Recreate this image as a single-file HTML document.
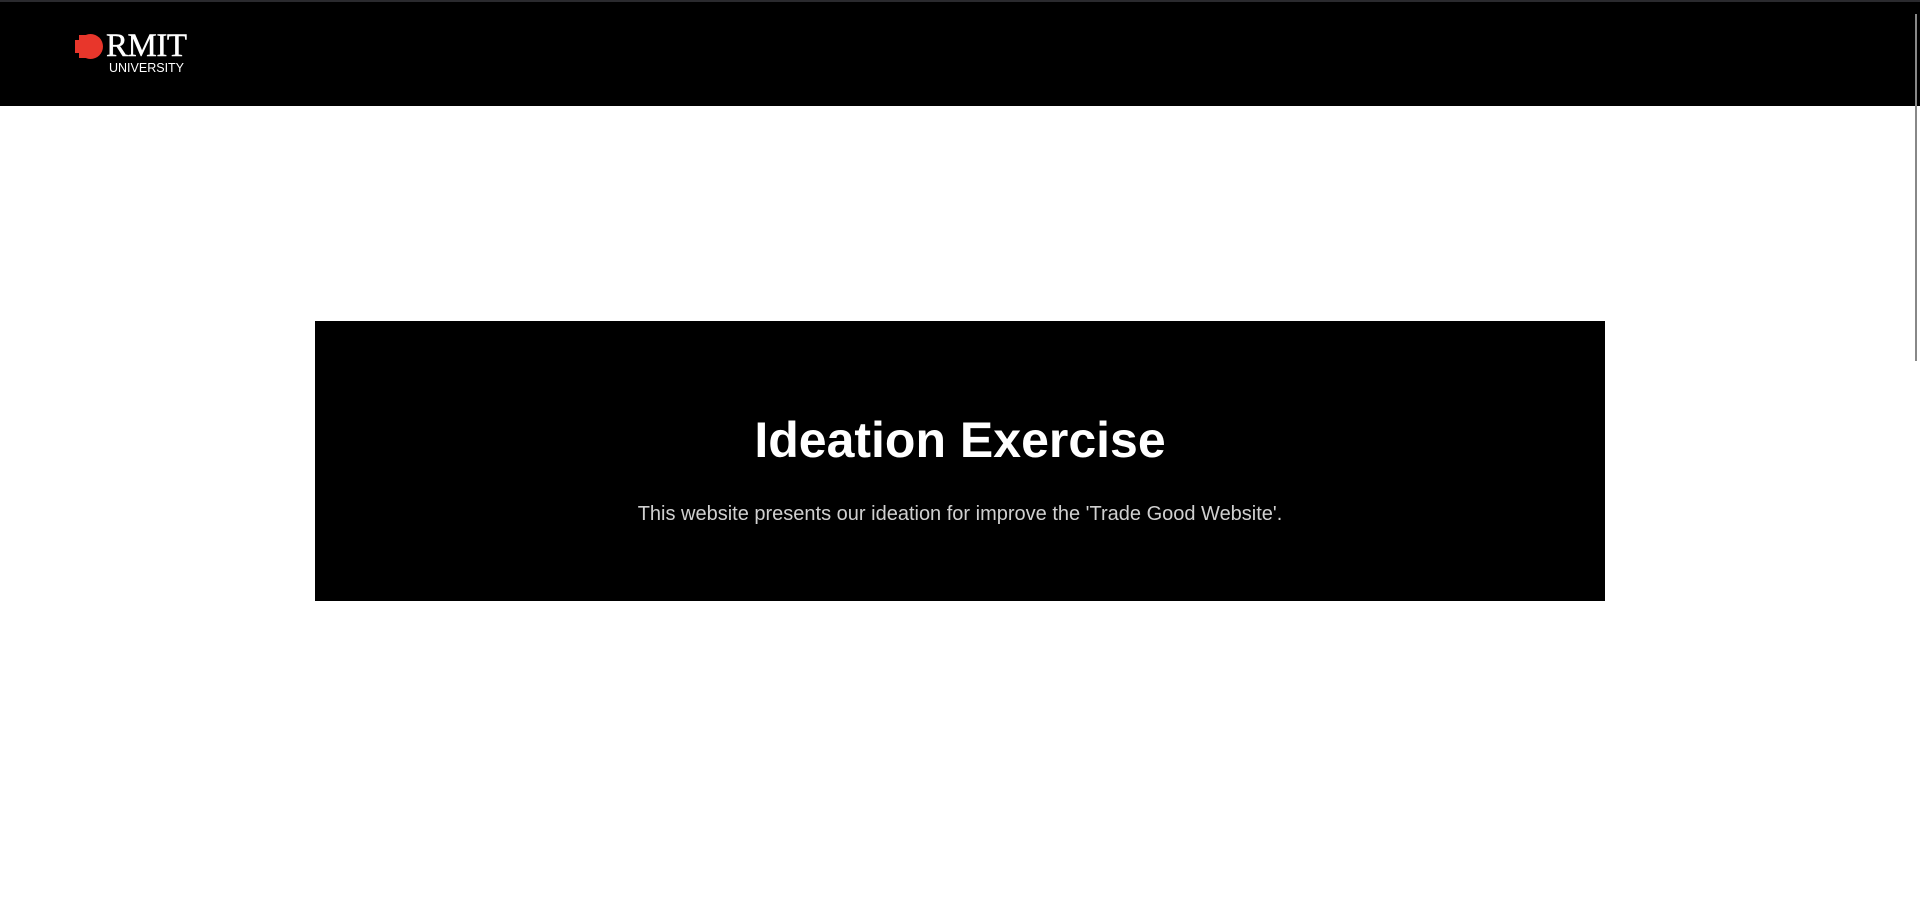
<!DOCTYPE html>
<html><head><meta charset="utf-8"><style>
html,body{margin:0;padding:0;width:1920px;height:915px;overflow:hidden;background:#fff;font-family:"Liberation Sans",Arial,sans-serif}
.topline{position:absolute;left:0;top:0;width:1920px;height:2px;background:#2a2a2e}
header{position:absolute;left:0;top:2px;width:1920px;height:104px;background:#000}
.logo{position:absolute;left:75px;top:31px;width:120px;height:45px}
.dot{position:absolute;left:3px;top:1px;width:25px;height:25px;border-radius:50%;background:#e8362b}
.dot2{position:absolute;left:0;top:7px;width:10px;height:13px;background:#e8362b}
.dot3{position:absolute;left:4px;top:2px;width:8px;height:23px;background:#e8362b}
.rmit{position:absolute;left:31px;top:-3px;font-family:"Liberation Serif",serif;font-size:33px;color:#fff;letter-spacing:-0.5px;line-height:33px;-webkit-text-stroke:0.4px #fff}
.uni{position:absolute;left:34px;top:29px;font-size:12.5px;color:#fff;line-height:12px}
.hero{position:absolute;left:315px;top:321px;width:1290px;height:280px;background:#000;text-align:center}
h1{position:absolute;left:0;right:0;top:412px;margin:0;font-size:50px;font-weight:bold;color:#fff;line-height:56px;text-align:center}
p{position:absolute;left:0;right:0;top:502px;margin:0;font-size:20px;color:#d0d0d0;line-height:24px;text-align:center}
.scroll{position:absolute;left:1915px;top:14px;width:2px;height:347px;background:#888}
</style></head><body>
<div class="topline"></div>
<header>
<div class="logo">
<div class="dot"></div><div class="dot2"></div><div class="dot3"></div>
<div class="rmit">RMIT</div>
<div class="uni">UNIVERSITY</div>
</div>
</header>
<div class="hero"></div>
<h1>Ideation Exercise</h1>
<p>This website presents our ideation for improve the 'Trade Good Website'.</p>
<div class="scroll"></div>
</body></html>
